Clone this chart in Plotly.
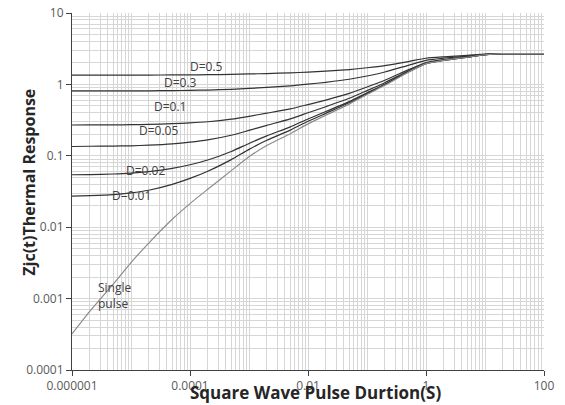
import plotly.graph_objects as go

# Pulse duration (s)
t = [1e-6, 2e-6, 5e-6, 1e-5, 2e-5, 5e-5, 1e-4, 2e-4, 5e-4, 1e-3, 2e-3, 5e-3,
     1e-2, 2e-2, 5e-2, 0.1, 0.2, 0.5, 1, 2, 5, 10, 20, 50, 100]

d_05 = [1.35, 1.35, 1.35, 1.35, 1.353, 1.356, 1.36, 1.367, 1.38, 1.40, 1.42, 1.45,
        1.49, 1.535, 1.615, 1.71, 1.835, 2.09, 2.325, 2.435, 2.55, 2.65, 2.695, 2.7, 2.7]
d_03 = [0.81, 0.81, 0.811, 0.812, 0.814, 0.819, 0.825, 0.834, 0.853, 0.878, 0.907, 0.953,
        1.006, 1.07, 1.18, 1.31, 1.49, 1.85, 2.175, 2.33, 2.49, 2.63, 2.69, 2.7, 2.7]
d_01 = [0.27, 0.271, 0.271, 0.273, 0.275, 0.282, 0.289, 0.30, 0.326, 0.357, 0.395, 0.454,
        0.522, 0.603, 0.747, 0.918, 1.143, 1.60, 2.025, 2.223, 2.43, 2.61, 2.69, 2.7, 2.7]
d_005 = [0.135, 0.136, 0.137, 0.138, 0.141, 0.147, 0.155, 0.167, 0.194, 0.227, 0.267, 0.329,
         0.401, 0.487, 0.639, 0.819, 1.057, 1.54, 1.99, 2.197, 2.415, 2.605, 2.69, 2.7, 2.7]
d_002 = [0.0543, 0.0546, 0.0556, 0.0571, 0.0599, 0.0666, 0.075, 0.0873, 0.115, 0.149, 0.190, 0.254,
         0.328, 0.417, 0.573, 0.76, 1.005, 1.504, 1.965, 2.18, 2.405, 2.6, 2.69, 2.7, 2.7]
d_001 = [0.0273, 0.0277, 0.0286, 0.0302, 0.0329, 0.0398, 0.0482, 0.0607, 0.0884, 0.123, 0.165, 0.229,
         0.304, 0.393, 0.552, 0.74, 0.987, 1.492, 1.958, 2.175, 2.403, 2.601, 2.69, 2.7, 2.7]
single = [3.2e-4, 6.6e-4, 1.6e-3, 3.2e-3, 6.0e-3, 0.0129, 0.0214, 0.034, 0.062, 0.097, 0.139, 0.204,
          0.28, 0.37, 0.53, 0.72, 0.97, 1.48, 1.95, 2.17, 2.40, 2.6, 2.69, 2.7, 2.7]

series = [("D=0.5", d_05), ("D=0.3", d_03), ("D=0.1", d_01), ("D=0.05", d_005),
          ("D=0.02", d_002), ("D=0.01", d_001)]

x_tickvals = [1e-6, 1e-4, 1e-2, 1, 100]
x_ticktext = ["0.000001", "0.0001", "0.01", "1", "100"]
y_tickvals = [1e-4, 1e-3, 1e-2, 1e-1, 1, 10]
y_ticktext = ["0.0001", "0.001", "0.01", "0.1", "1", "10"]

# label texts with paper positions
labels = [("D=0.5", 0.286, 0.850), ("D=0.3", 0.229, 0.805), ("D=0.1", 0.208, 0.738),
          ("D=0.05", 0.183, 0.672), ("D=0.02", 0.155, 0.560), ("D=0.01", 0.126, 0.490)]

fig = go.Figure()
for name, vals in series:
    fig.add_trace(go.Scatter(x=t, y=vals, mode="lines", name=name,
                             line=dict(color="#333333", width=1.2, shape="spline", smoothing=0.6)))
fig.add_trace(go.Scatter(x=t, y=single, mode="lines", name="Single pulse",
                         line=dict(color="#8c8c8c", width=1.2, shape="spline", smoothing=0.6)))

FONT = "Open Sans"
grid = "#d6d6d6"
fig.update_layout(
    width=557, height=397,
    margin=dict(l=64, r=21, t=5, b=35, autoexpand=False),
    paper_bgcolor="white", plot_bgcolor="white",
    showlegend=False,
    font=dict(family=FONT, size=12, color="#595959"),
)
fig.update_xaxes(
    type="log", range=[-6, 2], automargin=False, ticklabeloverflow="allow",
    tickmode="array", tickvals=x_tickvals, ticktext=x_ticktext,
    ticks="outside", ticklen=5, tickcolor="#404040",
    showline=True, linecolor="#404040", linewidth=1,
    showgrid=True, gridcolor=grid, gridwidth=1,
    minor=dict(dtick="D1", showgrid=True, gridcolor=grid, gridwidth=1, ticks=""),
    zeroline=False,
    tickfont=dict(family=FONT, size=12, color="#595959"),
)
fig.update_yaxes(
    type="log", range=[-4, 1], automargin=False, ticklabeloverflow="allow",
    tickmode="array", tickvals=y_tickvals, ticktext=y_ticktext,
    ticks="outside", ticklen=5, tickcolor="#404040",
    showline=True, linecolor="#404040", linewidth=1,
    showgrid=True, gridcolor=grid, gridwidth=1,
    minor=dict(dtick="D1", showgrid=True, gridcolor=grid, gridwidth=1, ticks=""),
    zeroline=False,
    tickfont=dict(family=FONT, size=12, color="#595959"),
)

for txt, xp, yp in labels:
    fig.add_annotation(x=xp, y=yp, xref="paper", yref="paper", text=txt, showarrow=False,
                       xanchor="center", yanchor="middle",
                       font=dict(family=FONT, size=12, color="#404040"))
fig.add_annotation(x=0.091, y=0.210, xref="paper", yref="paper", text="Single<br>pulse",
                   showarrow=False, align="left", xanchor="center", yanchor="middle",
                   font=dict(family=FONT, size=12, color="#404040"))

fig.add_annotation(x=0.515, y=-0.062, xref="paper", yref="paper",
                   text="<b>Square Wave Pulse Durtion(S)</b>", showarrow=False,
                   xanchor="center", yanchor="middle",
                   font=dict(family=FONT, size=17, color="#262626"))
fig.add_annotation(x=-0.093, y=0.525, xref="paper", yref="paper",
                   text="<b>Zjc(t)Thermal Response</b>", showarrow=False, textangle=-90,
                   xanchor="center", yanchor="middle",
                   font=dict(family=FONT, size=16, color="#262626"))

fig.write_html("out.html")
